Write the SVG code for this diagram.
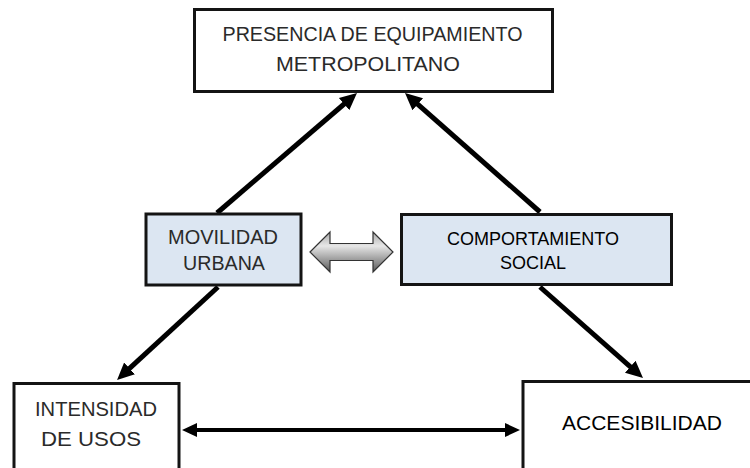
<svg xmlns="http://www.w3.org/2000/svg" width="750" height="468" viewBox="0 0 750 468">
<defs>
<style>
.box{fill:#ffffff;stroke:#141414;stroke-width:3}
.blue{fill:#dce6f2;stroke:#141414;stroke-width:3}
.t{font-family:"Liberation Sans",Arial,sans-serif;text-anchor:middle;fill:#2a2a2a}
.tb{font-family:"Liberation Sans",Arial,sans-serif;text-anchor:middle;fill:#000}
.conn{stroke:#000;stroke-width:5;fill:none}
</style>
<marker id="ah" markerUnits="userSpaceOnUse" markerWidth="18" markerHeight="18" viewBox="0 0 18 18" refX="7" refY="9" orient="auto-start-reverse">
<path d="M0,1 L17,9 L0,17 z" fill="#000"/>
</marker>
<marker id="ah2" markerUnits="userSpaceOnUse" markerWidth="16" markerHeight="16" viewBox="0 0 16 16" refX="6" refY="8" orient="auto-start-reverse">
<path d="M0,1 L15,8 L0,15 z" fill="#000"/>
</marker>
<linearGradient id="g" x1="0" y1="0" x2="0" y2="1">
<stop offset="0" stop-color="#a8a8a8"/>
<stop offset="0.35" stop-color="#e6e6e6"/>
<stop offset="1" stop-color="#5a5a5a"/>
</linearGradient>
</defs>
<g id="connectors">
<line class="conn" x1="217" y1="213" x2="349.4" y2="99.5" marker-end="url(#ah)"/>
<line class="conn" x1="540" y1="212" x2="412.5" y2="99.6" marker-end="url(#ah)"/>
<line class="conn" x1="218" y1="287" x2="124.4" y2="373.2" marker-end="url(#ah)"/>
<line class="conn" x1="540" y1="287" x2="635.5" y2="371.4" marker-end="url(#ah)"/>
<line x1="191" y1="430" x2="511" y2="430" stroke="#000" stroke-width="4" marker-start="url(#ah2)" marker-end="url(#ah2)"/>
<path id="block-arrow" d="M310,252 L330,232 L330,243.5 L373,243.5 L373,232 L393,252 L373,272 L373,260.5 L330,260.5 L330,272 Z" fill="url(#g)" stroke="#333" stroke-width="1.2"/>
</g>
<g id="presencia">
<rect class="box" x="194.5" y="9.5" width="358" height="82"/>
<text class="t" x="372.5" y="41" font-size="21" textLength="300" lengthAdjust="spacingAndGlyphs">PRESENCIA DE EQUIPAMIENTO</text>
<text class="t" x="368" y="71" font-size="21" textLength="184" lengthAdjust="spacingAndGlyphs">METROPOLITANO</text>
</g>
<g id="movilidad">
<rect class="blue" x="146" y="214" width="155" height="71"/>
<text class="t" x="223" y="243.5" font-size="21" textLength="110" lengthAdjust="spacingAndGlyphs">MOVILIDAD</text>
<text class="t" x="224" y="269.5" font-size="21" textLength="82" lengthAdjust="spacingAndGlyphs">URBANA</text>
</g>
<g id="comportamiento">
<rect class="blue" x="401.5" y="214.5" width="270" height="70"/>
<text class="tb" x="533" y="245" font-size="18">COMPORTAMIENTO</text>
<text class="tb" x="533" y="269" font-size="18">SOCIAL</text>
</g>
<g id="intensidad">
<rect class="box" x="14" y="383.5" width="165" height="100"/>
<text class="t" x="96" y="415.5" font-size="21" textLength="122" lengthAdjust="spacingAndGlyphs">INTENSIDAD</text>
<text class="t" x="91" y="445.5" font-size="21" textLength="100" lengthAdjust="spacingAndGlyphs">DE USOS</text>
</g>
<g id="accesibilidad">
<rect class="box" x="523" y="381.5" width="240" height="100"/>
<text class="tb" x="642" y="429.5" font-size="21" textLength="160" lengthAdjust="spacingAndGlyphs">ACCESIBILIDAD</text>
</g>
</svg>
